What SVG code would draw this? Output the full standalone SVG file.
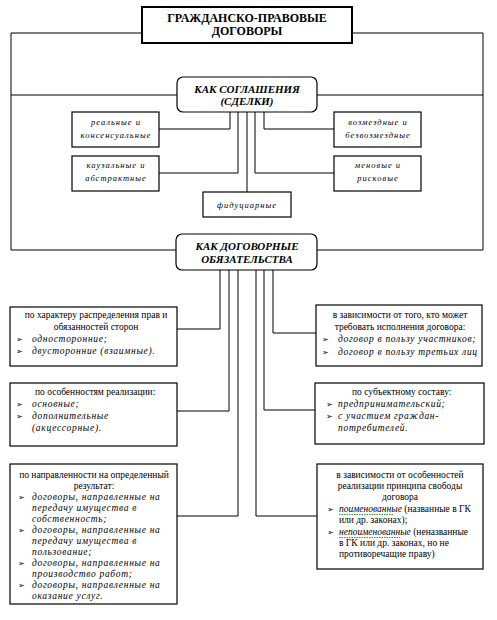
<svg xmlns="http://www.w3.org/2000/svg" width="497" height="620" viewBox="0 0 497 620">
<style>
.ln{fill:none;stroke:#000;stroke-width:1}
.bx{fill:#fff;stroke:#000;stroke-width:1.2}
.tb{fill:#fff;stroke:#000;stroke-width:2}
.rb{fill:#fff;stroke:#000;stroke-width:1.2}
.t,.h,.s,.r,.i{font-family:'Liberation Serif','DejaVu Serif',serif;fill:#000}
.t{font-size:12px;font-weight:bold;text-anchor:middle}
.h{font-size:11px;font-weight:bold;font-style:italic;text-anchor:middle}
.s{font-size:8.5px;font-style:italic;letter-spacing:1px;text-anchor:middle}
.r{font-size:9.5px}
.c{text-anchor:middle}
.i{font-size:9.5px;font-style:italic;letter-spacing:0.7px}
.b{font-family:'DejaVu Sans',sans-serif;font-size:8px}
</style>
<g id="connectors">
<path class="ln" d="M142,33 H11 V250 H176"/>
<path class="ln" d="M352,33 H483 V250 H317"/>
<path class="ln" d="M11,95 H177 M317,95 H483"/>
<path class="ln" d="M230,112 V129 H159"/>
<path class="ln" d="M238,112 V173 H159"/>
<path class="ln" d="M247,112 V192"/>
<path class="ln" d="M255,112 V173 H334"/>
<path class="ln" d="M264,112 V129 H334"/>
<path class="ln" d="M220,270 V329 H177"/>
<path class="ln" d="M229,270 V411 H177"/>
<path class="ln" d="M238,270 V516 H177"/>
<path class="ln" d="M256,270 V516 H317"/>
<path class="ln" d="M264,270 V410 H315"/>
<path class="ln" d="M273,270 V333 H316"/>
</g>
<g id="title">
<rect class="tb" x="142" y="7" width="210" height="36"/>
<text class="t" x="247" y="22">ГРАЖДАНСКО-ПРАВОВЫЕ</text>
<text class="t" x="247" y="35">ДОГОВОРЫ</text>
</g>
<g id="soglasheniya">
<rect class="rb" x="177" y="77" width="140" height="35" rx="6"/>
<text class="h" x="247" y="93">КАК СОГЛАШЕНИЯ</text>
<text class="h" x="247" y="105">(СДЕЛКИ)</text>
</g>
<g id="realnye">
<rect class="bx" x="72" y="112" width="87" height="35"/>
<text class="s" x="116" y="125">реальные и</text>
<text class="s" x="116" y="138">консенсуальные</text>
</g>
<g id="kauzalnye">
<rect class="bx" x="72" y="156" width="87" height="35"/>
<text class="s" x="116" y="168">каузальные и</text>
<text class="s" x="116" y="181">абстрактные</text>
</g>
<g id="fiduciarnye">
<rect class="bx" x="203" y="192" width="88" height="25"/>
<text class="s" x="247" y="208">фидуциарные</text>
</g>
<g id="vozmezdnye">
<rect class="bx" x="334" y="112" width="87" height="35"/>
<text class="s" x="378" y="125">возмездные и</text>
<text class="s" x="378" y="138">безвозмездные</text>
</g>
<g id="menovye">
<rect class="bx" x="334" y="156" width="87" height="35"/>
<text class="s" x="378" y="168">меновые и</text>
<text class="s" x="378" y="181">рисковые</text>
</g>
<g id="obyazatelstva">
<rect class="rb" x="176" y="234" width="141" height="36" rx="6"/>
<text class="h" x="247" y="250">КАК ДОГОВОРНЫЕ</text>
<text class="h" x="247" y="263">ОБЯЗАТЕЛЬСТВА</text>
</g>
<g id="po-harakteru">
<rect class="bx" x="10" y="307" width="167" height="59"/>
<text class="r c" x="96" y="318">по характеру распределения прав и</text>
<text class="r c" x="96" y="330">обязанностей сторон</text>
<text class="b" x="16" y="342">➢</text>
<text class="i" x="32" y="342">односторонние;</text>
<text class="b" x="16" y="354">➢</text>
<text class="i" x="32" y="354">двусторонние (взаимные).</text>
</g>
<g id="po-osobennostyam">
<rect class="bx" x="10" y="383" width="167" height="63"/>
<text class="r" x="35" y="395">по особенностям реализации:</text>
<text class="b" x="16" y="407">➢</text>
<text class="i" x="32" y="407">основные;</text>
<text class="b" x="16" y="419">➢</text>
<text class="i" x="32" y="419">дополнительные</text>
<text class="i" x="32" y="431">(акцессорные).</text>
</g>
<g id="po-napravlennosti">
<rect class="bx" x="10" y="464" width="167" height="140"/>
<text class="r c" x="94" y="478">по направленности на определенный</text>
<text class="r c" x="94" y="489">результат:</text>
<text class="b" x="18" y="500">➢</text>
<text class="i" x="32" y="500">договоры, направленные на</text>
<text class="i" x="32" y="511">передачу имущества в</text>
<text class="i" x="32" y="522">собственность;</text>
<text class="b" x="18" y="533">➢</text>
<text class="i" x="32" y="533">договоры, направленные на</text>
<text class="i" x="32" y="544">передачу имущества в</text>
<text class="i" x="32" y="555">пользование;</text>
<text class="b" x="18" y="566">➢</text>
<text class="i" x="32" y="566">договоры, направленные на</text>
<text class="i" x="32" y="577">производство работ;</text>
<text class="b" x="18" y="588">➢</text>
<text class="i" x="32" y="588">договоры, направленные на</text>
<text class="i" x="32" y="599">оказание услуг.</text>
</g>
<g id="v-zavisimosti-kto">
<rect class="bx" x="316" y="305" width="166" height="61"/>
<text class="r c" x="400" y="318">в зависимости от того, кто может</text>
<text class="r c" x="400" y="330">требовать исполнения договора:</text>
<text class="b" x="322" y="342">➢</text>
<text class="i" x="338" y="342">договор в пользу участников;</text>
<text class="b" x="322" y="355">➢</text>
<text class="i" x="338" y="355">договор в пользу третьих лиц</text>
</g>
<g id="po-subjektnomu">
<rect class="bx" x="315" y="383" width="169" height="61"/>
<text class="r" x="352" y="395">по субъектному составу:</text>
<text class="b" x="326" y="407">➢</text>
<text class="i" x="338" y="407">предпринимательский;</text>
<text class="b" x="326" y="419">➢</text>
<text class="i" x="338" y="419">с участием граждан-</text>
<text class="i" x="338" y="431">потребителей.</text>
</g>
<g id="v-zavisimosti-svobody">
<rect class="bx" x="317" y="464" width="166" height="105"/>
<text class="r c" x="400" y="478">в зависимости от особенностей</text>
<text class="r c" x="400" y="489">реализации принципа свободы</text>
<text class="r c" x="400" y="500">договора</text>
<text class="b" x="327" y="512">➢</text>
<text class="r" x="339" y="512"><tspan font-style="italic">поименованные</tspan> (названные в ГК</text>
<text class="r" x="339" y="523">или др. законах);</text>
<text class="b" x="327" y="535">➢</text>
<text class="r" x="339" y="535"><tspan font-style="italic">непоименованные</tspan> (неназванные</text>
<text class="r" x="339" y="546">в ГК или др. законах, но не</text>
<text class="r" x="339" y="557">противоречащие праву)</text>
<path d="M339,514.5 h55 M339,537.5 h61" fill="none" stroke="#3a9a3a" stroke-width="1" stroke-dasharray="1.5,1"/>
</g>
</svg>
